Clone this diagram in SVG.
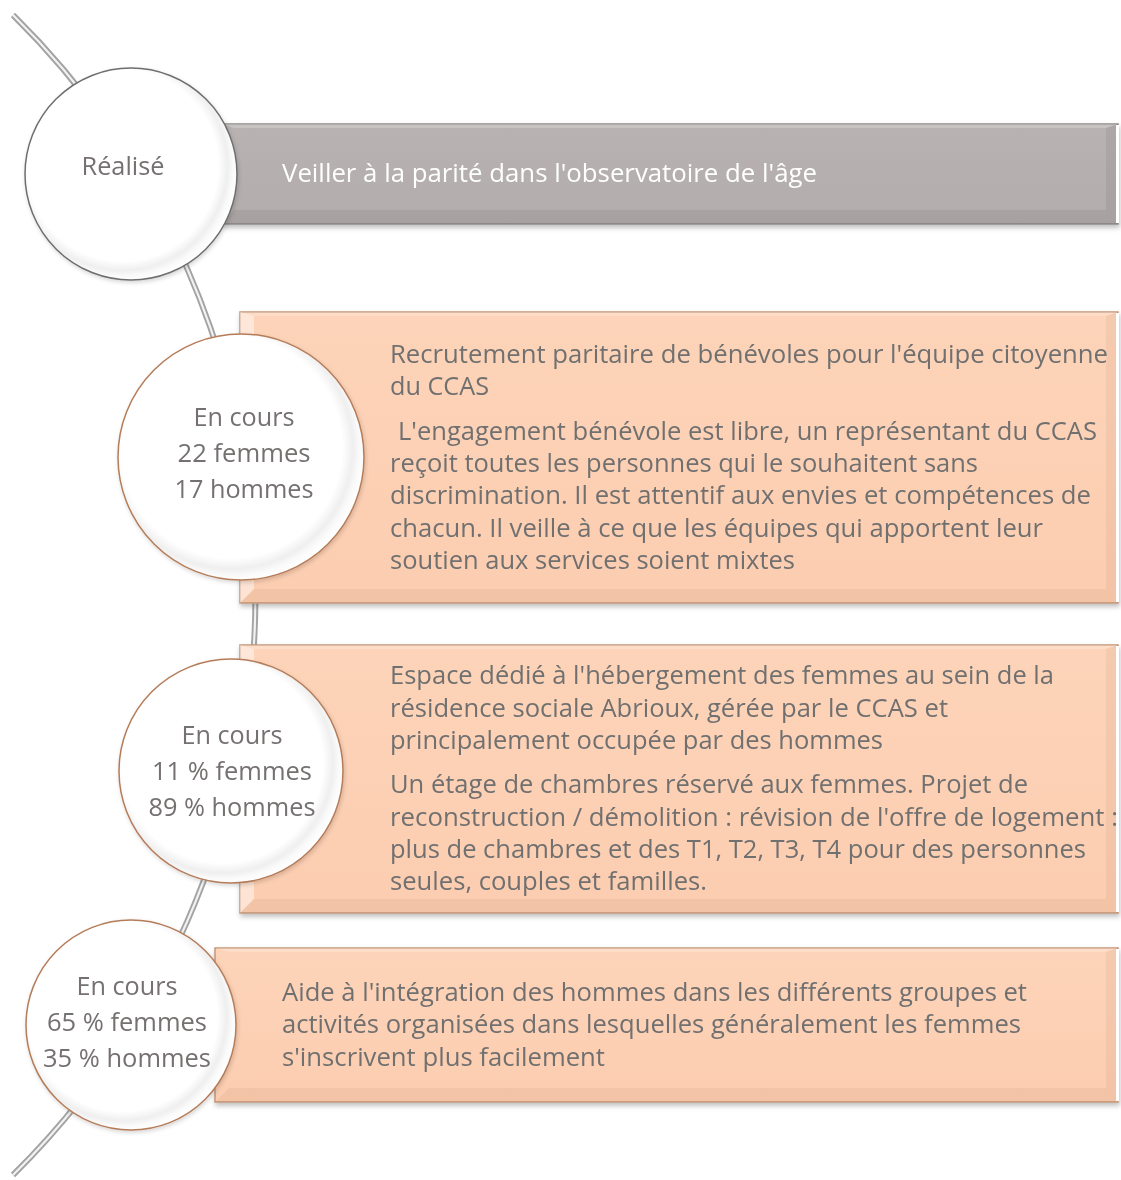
<svg xmlns="http://www.w3.org/2000/svg" width="1121" height="1180" viewBox="0 0 1121 1180">
<defs>
<filter id="sh" x="-10%" y="-10%" width="120%" height="130%"><feDropShadow dx="1" dy="3" stdDeviation="2.5" flood-color="#000" flood-opacity="0.25"/></filter>
<filter id="shc" x="-10%" y="-10%" width="120%" height="130%"><feDropShadow dx="1" dy="2" stdDeviation="2" flood-color="#000" flood-opacity="0.16"/></filter>
<linearGradient id="peach" x1="0" y1="0" x2="0" y2="1"><stop offset="0" stop-color="#fdd4b9"/><stop offset="1" stop-color="#fccdb0"/></linearGradient>
<linearGradient id="grey" x1="0" y1="0" x2="0" y2="1"><stop offset="0" stop-color="#b8b3b2"/><stop offset="1" stop-color="#b2adac"/></linearGradient>
<radialGradient id="disc" cx="0.46" cy="0.46" r="0.55"><stop offset="0" stop-color="#ffffff"/><stop offset="0.82" stop-color="#ffffff"/><stop offset="0.9" stop-color="#efefef"/><stop offset="0.95" stop-color="#fafafa"/><stop offset="1" stop-color="#ffffff"/></radialGradient>
<clipPath id="page"><rect x="0" y="0" width="1121" height="1180"/></clipPath>
</defs>
<style>
.t{font-family:"Open Sans","Liberation Sans",sans-serif;font-size:25px;fill:#707070}
.w{font-family:"Open Sans","Liberation Sans",sans-serif;font-size:25px;fill:#ffffff}
.c{font-family:"Open Sans","Liberation Sans",sans-serif;font-size:26px;fill:#767171;text-anchor:middle}
.pr{fill:url(#peach);stroke:#c3967b;stroke-width:1.5}
.gr{fill:url(#grey);stroke:#8e8a89;stroke-width:1.5}
.hl{fill:#ffffff;opacity:0.45}
.hl2{fill:#ffffff;opacity:0.22}
.dk{fill:#7a4a30;opacity:0.07}
.dkg{fill:#000;opacity:0.06}
.disc{fill:url(#disc)}
.cp{stroke:#b57c59;stroke-width:1.5}
.cg{stroke:#6e6e6e;stroke-width:1.5}
</style>
<rect width="1121" height="1180" fill="#ffffff"/>
<g id="connectors">
<path d="M 13 15 A 815 815 0 0 1 13 1175" fill="none" stroke="#a3a3a3" stroke-width="6"/>
<path d="M 13 15 A 815 815 0 0 1 13 1175" fill="none" stroke="#f2f2f2" stroke-width="2.2"/>
</g>
<g clip-path="url(#page)">
<g id="bar-realise" filter="url(#sh)">
<rect class="gr" x="222" y="124" width="896" height="100"/>
<polygon class="hl2" points="222,124 1118,124 1106,128 234,128"/>
<polygon class="dkg" points="222,224 1118,224 1106,210 234,210"/>
<polygon class="dkg" points="1106,128 1118,124 1118,224 1106,210"/>
<rect x="1116" y="125" width="3" height="98" fill="#ffffff"/>
<text class="w" x="282" y="182" textLength="535" lengthAdjust="spacingAndGlyphs">Veiller à la parité dans l'observatoire de l'âge</text>
</g>
<g id="box-benevoles" filter="url(#sh)">
<rect class="pr" x="240" y="312" width="878" height="291"/>
<polygon class="hl" points="240,312 254,316 254,589 240,603"/>
<polygon class="hl2" points="240,312 1118,312 1106,316 254,316"/>
<polygon class="dk" points="240,603 1118,603 1106,589 254,589"/>
<polygon class="dk" points="1106,316 1118,312 1118,603 1106,589"/>
<rect x="1116" y="313" width="3" height="289" fill="#ffffff"/>
<text class="t" x="390" y="363" textLength="718" lengthAdjust="spacingAndGlyphs">Recrutement paritaire de bénévoles pour l'équipe citoyenne</text>
<text class="t" x="390" y="395" textLength="99" lengthAdjust="spacingAndGlyphs">du CCAS</text>
<text class="t" x="398" y="440" textLength="699" lengthAdjust="spacingAndGlyphs">L'engagement bénévole est libre, un représentant du CCAS</text>
<text class="t" x="390" y="472" textLength="588" lengthAdjust="spacingAndGlyphs">reçoit toutes les personnes qui le souhaitent sans</text>
<text class="t" x="390" y="504" textLength="701" lengthAdjust="spacingAndGlyphs">discrimination. Il est attentif aux envies et compétences de</text>
<text class="t" x="390" y="537" textLength="653" lengthAdjust="spacingAndGlyphs">chacun. Il veille à ce que les équipes qui apportent leur</text>
<text class="t" x="390" y="569" textLength="405" lengthAdjust="spacingAndGlyphs">soutien aux services soient mixtes</text>
</g>
<g id="box-hebergement" filter="url(#sh)">
<rect class="pr" x="240" y="645" width="878" height="268"/>
<polygon class="hl" points="240,645 254,649 254,899 240,913"/>
<polygon class="hl2" points="240,645 1118,645 1106,649 254,649"/>
<polygon class="dk" points="240,913 1118,913 1106,899 254,899"/>
<polygon class="dk" points="1106,649 1118,645 1118,913 1106,899"/>
<rect x="1116" y="646" width="3" height="266" fill="#ffffff"/>
<text class="t" x="390" y="684" textLength="664" lengthAdjust="spacingAndGlyphs">Espace dédié à l'hébergement des femmes au sein de la</text>
<text class="t" x="390" y="717" textLength="558" lengthAdjust="spacingAndGlyphs">résidence sociale Abrioux, gérée par le CCAS et</text>
<text class="t" x="390" y="749" textLength="493" lengthAdjust="spacingAndGlyphs">principalement occupée par des hommes</text>
<text class="t" x="390" y="793" textLength="638" lengthAdjust="spacingAndGlyphs">Un étage de chambres réservé aux femmes. Projet de</text>
<text class="t" x="390" y="826" textLength="728" lengthAdjust="spacingAndGlyphs">reconstruction / démolition : révision de l'offre de logement :</text>
<text class="t" x="390" y="858" textLength="696" lengthAdjust="spacingAndGlyphs">plus de chambres et des T1, T2, T3, T4 pour des personnes</text>
<text class="t" x="390" y="890" textLength="317" lengthAdjust="spacingAndGlyphs">seules, couples et familles.</text>
</g>
<g id="box-integration" filter="url(#sh)">
<rect class="pr" x="215" y="948" width="903" height="154"/>
<polygon class="hl2" points="215,948 1118,948 1106,952 229,952"/>
<polygon class="dk" points="215,1102 1118,1102 1106,1088 229,1088"/>
<polygon class="dk" points="1106,952 1118,948 1118,1102 1106,1088"/>
<rect x="1116" y="949" width="3" height="152" fill="#ffffff"/>
<text class="t" x="282" y="1001" textLength="745" lengthAdjust="spacingAndGlyphs">Aide à l'intégration des hommes dans les différents groupes et</text>
<text class="t" x="282" y="1033" textLength="739" lengthAdjust="spacingAndGlyphs">activités organisées dans lesquelles généralement les femmes</text>
<text class="t" x="282" y="1066" textLength="323" lengthAdjust="spacingAndGlyphs">s'inscrivent plus facilement</text>
</g>
</g>
<g id="circle-realise" filter="url(#shc)">
<circle class="disc cg" cx="131" cy="174" r="106"/>
<text class="c" x="123" y="175" textLength="83" lengthAdjust="spacingAndGlyphs">Réalisé</text>
</g>
<g id="circle-benevoles" filter="url(#shc)">
<circle class="disc cp" cx="241" cy="457" r="123"/>
<text class="c" x="244" y="426" textLength="101" lengthAdjust="spacingAndGlyphs">En cours</text>
<text class="c" x="244" y="462" textLength="133" lengthAdjust="spacingAndGlyphs">22 femmes</text>
<text class="c" x="244" y="498" textLength="139" lengthAdjust="spacingAndGlyphs">17 hommes</text>
</g>
<g id="circle-hebergement" filter="url(#shc)">
<circle class="disc cp" cx="231" cy="771" r="112"/>
<text class="c" x="232" y="744" textLength="101" lengthAdjust="spacingAndGlyphs">En cours</text>
<text class="c" x="232" y="780" textLength="160" lengthAdjust="spacingAndGlyphs">11 % femmes</text>
<text class="c" x="232" y="816" textLength="167" lengthAdjust="spacingAndGlyphs">89 % hommes</text>
</g>
<g id="circle-integration" filter="url(#shc)">
<circle class="disc cp" cx="131" cy="1025" r="105"/>
<text class="c" x="127" y="995" textLength="101" lengthAdjust="spacingAndGlyphs">En cours</text>
<text class="c" x="127" y="1031" textLength="160" lengthAdjust="spacingAndGlyphs">65 % femmes</text>
<text class="c" x="127" y="1067" textLength="168" lengthAdjust="spacingAndGlyphs">35 % hommes</text>
</g>
</svg>
